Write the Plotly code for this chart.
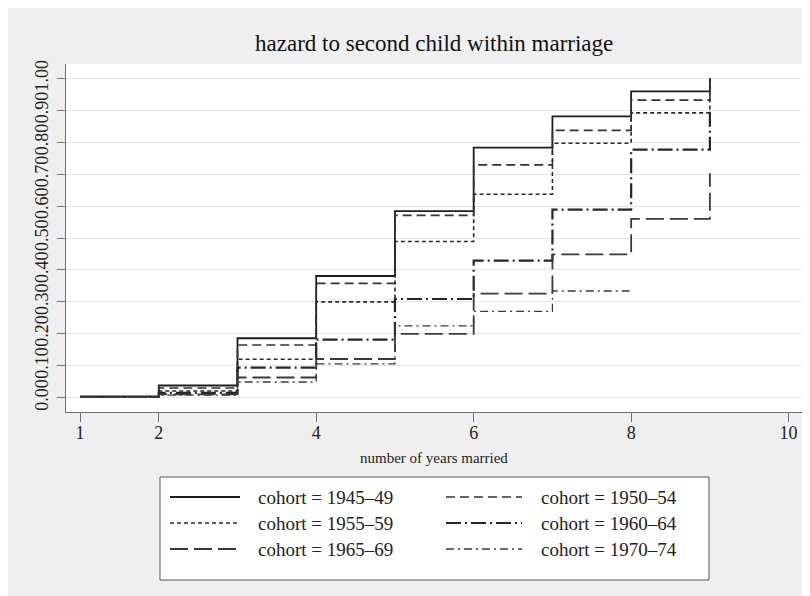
import plotly.graph_objects as go

# ---------------- data ----------------
years = [1, 2, 3, 4, 5, 6, 7, 8, 9]
years_7074 = [1, 2, 3, 4, 5, 6, 7, 8]

c1945_49 = [0.004, 0.038, 0.186, 0.381, 0.584, 0.783, 0.881, 0.959, 1.000]
c1950_54 = [0.003, 0.030, 0.165, 0.358, 0.571, 0.729, 0.837, 0.932, 1.000]
c1955_59 = [0.003, 0.021, 0.120, 0.300, 0.489, 0.637, 0.797, 0.892, 1.000]
c1960_64 = [0.002, 0.015, 0.094, 0.182, 0.309, 0.429, 0.589, 0.777, 0.900]
c1965_69 = [0.002, 0.010, 0.063, 0.121, 0.200, 0.326, 0.449, 0.560, 0.703]
c1970_74 = [0.001, 0.008, 0.049, 0.106, 0.225, 0.270, 0.334, 0.334]

labels = ["cohort = 1945\u201349", "cohort = 1950\u201354", "cohort = 1955\u201359",
          "cohort = 1960\u201364", "cohort = 1965\u201369", "cohort = 1970\u201374"]

y_tickvals = [0.0, 0.1, 0.2, 0.3, 0.4, 0.5, 0.6, 0.7, 0.8, 0.9, 1.0]
y_ticktext = ["0.00", "0.10", "0.20", "0.30", "0.40", "0.50", "0.60", "0.70", "0.80", "0.90", "1.00"]
x_tickvals = [1, 2, 4, 6, 8, 10]

# ---------------- styles ----------------
FONT = "Liberation Serif, Times New Roman, serif"
styles = [
    dict(color="#1e1e1e", width=1.8, dash="solid"),
    dict(color="#333333", width=1.6, dash="9px,5px"),
    dict(color="#2a2a2a", width=1.6, dash="4px,3px"),
    dict(color="#262626", width=2.2, dash="15px,4px,2px,4px"),
    dict(color="#3a3a3a", width=1.8, dash="18px,6px"),
    dict(color="#3a3a3a", width=1.3, dash="8px,4px,2px,4px"),
]
series = [(years, c1945_49), (years, c1950_54), (years, c1955_59),
          (years, c1960_64), (years, c1965_69), (years_7074, c1970_74)]

fig = go.Figure()
for (xs, ys), st, lab in zip(series, styles, labels):
    fig.add_trace(go.Scatter(x=xs, y=ys, mode="lines", line_shape="hv",
                             line=st, name=lab, showlegend=False))

# the page has an 8px body margin, so figure coords = screen coords - 8
OFF = 8
W, H = 810, 596
# plot area (screen px): left 66, right 802, top 64, bottom 412
L, R, T, B = 66 - OFF, 802 - OFF, 64 - OFF, 412 - OFF
def px(x_screen):
    return (x_screen - OFF - L) / (R - L)
def py(y_screen):
    return (B - (y_screen - OFF)) / (B - T)

shapes = []
annotations = []

# legend box
shapes.append(dict(type="rect", xref="paper", yref="paper", x0=px(160), x1=px(709), y0=py(580), y1=py(477),
                   fillcolor="white", line=dict(color="#555555", width=1)))
rows = [497, 523, 549]
cols = [(170, 240, 256), (446, 522, 539)]
for i, (st, lab) in enumerate(zip(styles, labels)):
    r = rows[i // 2]
    c = cols[i % 2]
    shapes.append(dict(type="line", xref="paper", yref="paper", x0=px(c[0]), x1=px(c[1]),
                       y0=py(r), y1=py(r), line=st))
    annotations.append(dict(xref="paper", yref="paper", x=px(c[2]), y=py(r), text=lab,
                            showarrow=False, xanchor="left", yanchor="middle",
                            font=dict(family=FONT, size=19, color="#222222")))

# title
annotations.append(dict(xref="paper", yref="paper", x=0.5, y=py(44),
                        text="hazard to second child within marriage", showarrow=False,
                        xanchor="center", yanchor="middle",
                        font=dict(family=FONT, size=23, color="#111111")))
# x-axis title
annotations.append(dict(xref="paper", yref="paper", x=0.5, y=py(458),
                        text="number of years married", showarrow=False,
                        xanchor="center", yanchor="middle",
                        font=dict(family=FONT, size=15, color="#222222")))

fig.update_layout(
    width=W, height=H,
    margin=dict(l=L, r=W - R, t=T, b=H - B, pad=0, autoexpand=False),
    paper_bgcolor="#efefef",
    plot_bgcolor="white",
    showlegend=False,
    shapes=shapes,
    annotations=annotations,
    font=dict(family=FONT, color="#222222"),
)
fig.update_xaxes(
    range=[0.822, 10.17], tickvals=x_tickvals, ticktext=[str(v) for v in x_tickvals],
    showgrid=False, zeroline=False, showline=True, linecolor="#707070", linewidth=1,
    ticks="outside", ticklen=9, tickcolor="#707070", tickwidth=1, automargin=False,
    ticklabelstandoff=-5,
    tickfont=dict(family=FONT, size=18, color="#222222"),
)
fig.update_yaxes(
    range=[-0.045, 1.045], tickvals=y_tickvals, ticktext=y_ticktext, tickangle=-90,
    showgrid=True, gridcolor="#e6e6e6", gridwidth=1, zeroline=False,
    showline=True, linecolor="#707070", linewidth=1, automargin=False,
    ticks="outside", ticklen=8, tickcolor="#707070", tickwidth=1,
    ticklabelstandoff=2,
    tickfont=dict(family=FONT, size=18, color="#222222"),
)

fig.write_html("out.html")
